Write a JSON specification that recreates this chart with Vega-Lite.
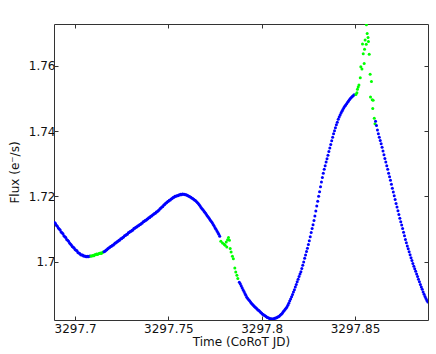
{
  "$schema": "https://vega.github.io/schema/vega-lite/v6.json",
  "width": 374,
  "height": 296,
  "autosize": {"type": "none"},
  "padding": {"left": 54, "top": 24, "right": 8, "bottom": 34},
  "background": "white",
  "config": {
    "view": {"stroke": null},
    "font": "DejaVu Sans",
    "axis": {"grid": false, "domainColor": "#333333", "tickColor": "#333333", "labelColor": "#111111", "titleColor": "#111111", "labelFont": "DejaVu Sans", "titleFont": "DejaVu Sans", "labelFontSize": 12, "titleFontSize": 12, "titleFontWeight": "normal", "tickSize": -4, "domainWidth": 1, "tickWidth": 1}
  },
  "layer": [
    {
      "data": {"values": [
        {"t":3297.6890,"f":1.7120,"c":"b"},{"t":3297.6895,"f":1.7117,"c":"b"},{"t":3297.6900,"f":1.7111,"c":"b"},{"t":3297.6905,"f":1.7108,"c":"b"},{"t":3297.6910,"f":1.7103,"c":"b"},{"t":3297.6915,"f":1.7100,"c":"b"},{"t":3297.6920,"f":1.7097,"c":"b"},{"t":3297.6925,"f":1.7091,"c":"b"},{"t":3297.6930,"f":1.7088,"c":"b"},{"t":3297.6935,"f":1.7085,"c":"b"},
        {"t":3297.6940,"f":1.7079,"c":"b"},{"t":3297.6945,"f":1.7076,"c":"b"},{"t":3297.6950,"f":1.7074,"c":"b"},{"t":3297.6955,"f":1.7068,"c":"b"},{"t":3297.6960,"f":1.7065,"c":"b"},{"t":3297.6965,"f":1.7062,"c":"b"},{"t":3297.6970,"f":1.7057,"c":"b"},{"t":3297.6975,"f":1.7054,"c":"b"},{"t":3297.6980,"f":1.7051,"c":"b"},{"t":3297.6985,"f":1.7046,"c":"b"},
        {"t":3297.6990,"f":1.7044,"c":"b"},{"t":3297.6995,"f":1.7042,"c":"b"},{"t":3297.7000,"f":1.7037,"c":"b"},{"t":3297.7005,"f":1.7035,"c":"b"},{"t":3297.7010,"f":1.7033,"c":"b"},{"t":3297.7015,"f":1.7028,"c":"b"},{"t":3297.7020,"f":1.7026,"c":"b"},{"t":3297.7025,"f":1.7025,"c":"b"},{"t":3297.7030,"f":1.7021,"c":"b"},{"t":3297.7035,"f":1.7020,"c":"b"},
        {"t":3297.7040,"f":1.7020,"c":"b"},{"t":3297.7045,"f":1.7017,"c":"b"},{"t":3297.7050,"f":1.7017,"c":"b"},{"t":3297.7055,"f":1.7016,"c":"b"},{"t":3297.7060,"f":1.7015,"c":"b"},{"t":3297.7065,"f":1.7016,"c":"b"},{"t":3297.7070,"f":1.7015,"c":"b"},{"t":3297.7075,"f":1.7016,"c":"b"},{"t":3297.7080,"f":1.7017,"c":"b"},
        {"t":3297.7085,"f":1.7017,"c":"g"},{"t":3297.7090,"f":1.7017,"c":"g"},{"t":3297.7095,"f":1.7019,"c":"g"},{"t":3297.7100,"f":1.7018,"c":"g"},{"t":3297.7105,"f":1.7021,"c":"g"},{"t":3297.7110,"f":1.7021,"c":"g"},{"t":3297.7115,"f":1.7023,"c":"g"},{"t":3297.7120,"f":1.7022,"c":"g"},{"t":3297.7125,"f":1.7024,"c":"g"},{"t":3297.7130,"f":1.7025,"c":"g"},{"t":3297.7135,"f":1.7026,"c":"g"},{"t":3297.7140,"f":1.7025,"c":"g"},{"t":3297.7145,"f":1.7027,"c":"g"},{"t":3297.7150,"f":1.7029,"c":"g"},
        {"t":3297.7155,"f":1.7030,"c":"b"},{"t":3297.7160,"f":1.7032,"c":"b"},{"t":3297.7165,"f":1.7035,"c":"b"},{"t":3297.7170,"f":1.7036,"c":"b"},{"t":3297.7175,"f":1.7039,"c":"b"},{"t":3297.7180,"f":1.7042,"c":"b"},{"t":3297.7185,"f":1.7043,"c":"b"},{"t":3297.7190,"f":1.7046,"c":"b"},{"t":3297.7195,"f":1.7047,"c":"b"},{"t":3297.7200,"f":1.7050,"c":"b"},
        {"t":3297.7205,"f":1.7051,"c":"b"},{"t":3297.7210,"f":1.7054,"c":"b"},{"t":3297.7215,"f":1.7057,"c":"b"},{"t":3297.7220,"f":1.7058,"c":"b"},{"t":3297.7225,"f":1.7061,"c":"b"},{"t":3297.7230,"f":1.7062,"c":"b"},{"t":3297.7235,"f":1.7065,"c":"b"},{"t":3297.7240,"f":1.7066,"c":"b"},{"t":3297.7245,"f":1.7070,"c":"b"},{"t":3297.7250,"f":1.7071,"c":"b"},
        {"t":3297.7255,"f":1.7074,"c":"b"},{"t":3297.7260,"f":1.7075,"c":"b"},{"t":3297.7265,"f":1.7079,"c":"b"},{"t":3297.7270,"f":1.7080,"c":"b"},{"t":3297.7275,"f":1.7083,"c":"b"},{"t":3297.7280,"f":1.7084,"c":"b"},{"t":3297.7285,"f":1.7088,"c":"b"},{"t":3297.7290,"f":1.7089,"c":"b"},{"t":3297.7295,"f":1.7092,"c":"b"},{"t":3297.7300,"f":1.7093,"c":"b"},
        {"t":3297.7305,"f":1.7096,"c":"b"},{"t":3297.7310,"f":1.7097,"c":"b"},{"t":3297.7315,"f":1.7101,"c":"b"},{"t":3297.7320,"f":1.7102,"c":"b"},{"t":3297.7325,"f":1.7105,"c":"b"},{"t":3297.7330,"f":1.7106,"c":"b"},{"t":3297.7335,"f":1.7109,"c":"b"},{"t":3297.7340,"f":1.7110,"c":"b"},{"t":3297.7345,"f":1.7113,"c":"b"},{"t":3297.7350,"f":1.7114,"c":"b"},
        {"t":3297.7355,"f":1.7117,"c":"b"},{"t":3297.7360,"f":1.7118,"c":"b"},{"t":3297.7365,"f":1.7122,"c":"b"},{"t":3297.7370,"f":1.7123,"c":"b"},{"t":3297.7375,"f":1.7126,"c":"b"},{"t":3297.7380,"f":1.7127,"c":"b"},{"t":3297.7385,"f":1.7130,"c":"b"},{"t":3297.7390,"f":1.7131,"c":"b"},{"t":3297.7395,"f":1.7134,"c":"b"},{"t":3297.7400,"f":1.7135,"c":"b"},
        {"t":3297.7405,"f":1.7139,"c":"b"},{"t":3297.7410,"f":1.7140,"c":"b"},{"t":3297.7415,"f":1.7143,"c":"b"},{"t":3297.7420,"f":1.7144,"c":"b"},{"t":3297.7425,"f":1.7147,"c":"b"},{"t":3297.7430,"f":1.7148,"c":"b"},{"t":3297.7435,"f":1.7152,"c":"b"},{"t":3297.7440,"f":1.7153,"c":"b"},{"t":3297.7445,"f":1.7156,"c":"b"},{"t":3297.7450,"f":1.7158,"c":"b"},
        {"t":3297.7455,"f":1.7162,"c":"b"},{"t":3297.7460,"f":1.7164,"c":"b"},{"t":3297.7465,"f":1.7167,"c":"b"},{"t":3297.7470,"f":1.7169,"c":"b"},{"t":3297.7475,"f":1.7173,"c":"b"},{"t":3297.7480,"f":1.7175,"c":"b"},{"t":3297.7485,"f":1.7179,"c":"b"},{"t":3297.7490,"f":1.7180,"c":"b"},{"t":3297.7495,"f":1.7183,"c":"b"},{"t":3297.7500,"f":1.7185,"c":"b"},
        {"t":3297.7505,"f":1.7188,"c":"b"},{"t":3297.7510,"f":1.7189,"c":"b"},{"t":3297.7515,"f":1.7192,"c":"b"},{"t":3297.7520,"f":1.7193,"c":"b"},{"t":3297.7525,"f":1.7196,"c":"b"},{"t":3297.7530,"f":1.7197,"c":"b"},{"t":3297.7535,"f":1.7200,"c":"b"},{"t":3297.7540,"f":1.7200,"c":"b"},{"t":3297.7545,"f":1.7202,"c":"b"},{"t":3297.7550,"f":1.7202,"c":"b"},
        {"t":3297.7555,"f":1.7204,"c":"b"},{"t":3297.7560,"f":1.7204,"c":"b"},{"t":3297.7565,"f":1.7206,"c":"b"},{"t":3297.7570,"f":1.7205,"c":"b"},{"t":3297.7575,"f":1.7207,"c":"b"},{"t":3297.7580,"f":1.7206,"c":"b"},{"t":3297.7585,"f":1.7206,"c":"b"},{"t":3297.7590,"f":1.7205,"c":"b"},{"t":3297.7595,"f":1.7205,"c":"b"},{"t":3297.7600,"f":1.7203,"c":"b"},
        {"t":3297.7605,"f":1.7202,"c":"b"},{"t":3297.7610,"f":1.7200,"c":"b"},{"t":3297.7615,"f":1.7199,"c":"b"},{"t":3297.7620,"f":1.7197,"c":"b"},{"t":3297.7625,"f":1.7195,"c":"b"},{"t":3297.7630,"f":1.7193,"c":"b"},{"t":3297.7635,"f":1.7191,"c":"b"},{"t":3297.7640,"f":1.7189,"c":"b"},{"t":3297.7645,"f":1.7187,"c":"b"},{"t":3297.7650,"f":1.7184,"c":"b"},
        {"t":3297.7655,"f":1.7181,"c":"b"},{"t":3297.7660,"f":1.7178,"c":"b"},{"t":3297.7665,"f":1.7174,"c":"b"},{"t":3297.7670,"f":1.7170,"c":"b"},{"t":3297.7675,"f":1.7166,"c":"b"},{"t":3297.7680,"f":1.7162,"c":"b"},{"t":3297.7685,"f":1.7159,"c":"b"},{"t":3297.7690,"f":1.7155,"c":"b"},{"t":3297.7695,"f":1.7151,"c":"b"},{"t":3297.7700,"f":1.7147,"c":"b"},
        {"t":3297.7705,"f":1.7143,"c":"b"},{"t":3297.7710,"f":1.7139,"c":"b"},{"t":3297.7715,"f":1.7135,"c":"b"},{"t":3297.7720,"f":1.7131,"c":"b"},{"t":3297.7725,"f":1.7127,"c":"b"},{"t":3297.7730,"f":1.7123,"c":"b"},{"t":3297.7735,"f":1.7119,"c":"b"},{"t":3297.7740,"f":1.7114,"c":"b"},{"t":3297.7745,"f":1.7109,"c":"b"},{"t":3297.7750,"f":1.7104,"c":"b"},
        {"t":3297.7755,"f":1.7099,"c":"b"},{"t":3297.7760,"f":1.7094,"c":"b"},{"t":3297.7765,"f":1.7089,"c":"b"},{"t":3297.7770,"f":1.7084,"c":"b"},{"t":3297.7775,"f":1.7078,"c":"b"},
        {"t":3297.7781,"f":1.7062,"c":"g"},{"t":3297.7790,"f":1.7057,"c":"g"},{"t":3297.7799,"f":1.7053,"c":"g"},{"t":3297.7804,"f":1.7050,"c":"g"},{"t":3297.7810,"f":1.7060,"c":"g"},{"t":3297.7817,"f":1.7067,"c":"g"},{"t":3297.7822,"f":1.7074,"c":"g"},{"t":3297.7827,"f":1.7065,"c":"g"},{"t":3297.7813,"f":1.7045,"c":"g"},{"t":3297.7831,"f":1.7040,"c":"g"},
        {"t":3297.7836,"f":1.7029,"c":"g"},{"t":3297.7843,"f":1.7016,"c":"g"},{"t":3297.7848,"f":1.7009,"c":"g"},{"t":3297.7856,"f":1.6980,"c":"g"},{"t":3297.7861,"f":1.6968,"c":"g"},{"t":3297.7867,"f":1.6958,"c":"g"},{"t":3297.7872,"f":1.6948,"c":"g"},
        {"t":3297.7880,"f":1.6937,"c":"b"},{"t":3297.7885,"f":1.6932,"c":"b"},{"t":3297.7890,"f":1.6926,"c":"b"},{"t":3297.7895,"f":1.6920,"c":"b"},{"t":3297.7900,"f":1.6914,"c":"b"},{"t":3297.7905,"f":1.6908,"c":"b"},{"t":3297.7910,"f":1.6902,"c":"b"},{"t":3297.7915,"f":1.6897,"c":"b"},{"t":3297.7920,"f":1.6891,"c":"b"},{"t":3297.7925,"f":1.6887,"c":"b"},
        {"t":3297.7930,"f":1.6883,"c":"b"},{"t":3297.7935,"f":1.6880,"c":"b"},{"t":3297.7940,"f":1.6876,"c":"b"},{"t":3297.7945,"f":1.6872,"c":"b"},{"t":3297.7950,"f":1.6869,"c":"b"},{"t":3297.7955,"f":1.6866,"c":"b"},{"t":3297.7960,"f":1.6863,"c":"b"},{"t":3297.7965,"f":1.6860,"c":"b"},{"t":3297.7970,"f":1.6858,"c":"b"},{"t":3297.7975,"f":1.6855,"c":"b"},
        {"t":3297.7980,"f":1.6852,"c":"b"},{"t":3297.7985,"f":1.6850,"c":"b"},{"t":3297.7990,"f":1.6847,"c":"b"},{"t":3297.7995,"f":1.6844,"c":"b"},{"t":3297.8000,"f":1.6842,"c":"b"},{"t":3297.8005,"f":1.6839,"c":"b"},{"t":3297.8010,"f":1.6837,"c":"b"},{"t":3297.8015,"f":1.6835,"c":"b"},{"t":3297.8020,"f":1.6833,"c":"b"},{"t":3297.8025,"f":1.6831,"c":"b"},
        {"t":3297.8030,"f":1.6829,"c":"b"},{"t":3297.8035,"f":1.6828,"c":"b"},{"t":3297.8040,"f":1.6826,"c":"b"},{"t":3297.8045,"f":1.6825,"c":"b"},{"t":3297.8050,"f":1.6825,"c":"b"},{"t":3297.8055,"f":1.6824,"c":"b"},{"t":3297.8060,"f":1.6824,"c":"b"},{"t":3297.8065,"f":1.6825,"c":"b"},{"t":3297.8070,"f":1.6826,"c":"b"},{"t":3297.8075,"f":1.6827,"c":"b"},
        {"t":3297.8080,"f":1.6828,"c":"b"},{"t":3297.8085,"f":1.6830,"c":"b"},{"t":3297.8090,"f":1.6831,"c":"b"},{"t":3297.8095,"f":1.6833,"c":"b"},{"t":3297.8100,"f":1.6836,"c":"b"},{"t":3297.8105,"f":1.6839,"c":"b"},{"t":3297.8110,"f":1.6842,"c":"b"},{"t":3297.8115,"f":1.6846,"c":"b"},{"t":3297.8120,"f":1.6849,"c":"b"},{"t":3297.8125,"f":1.6853,"c":"b"},
        {"t":3297.8130,"f":1.6857,"c":"b"},{"t":3297.8135,"f":1.6861,"c":"b"},{"t":3297.8140,"f":1.6866,"c":"b"},{"t":3297.8145,"f":1.6872,"c":"b"},{"t":3297.8150,"f":1.6879,"c":"b"},{"t":3297.8155,"f":1.6885,"c":"b"},{"t":3297.8160,"f":1.6892,"c":"b"},{"t":3297.8165,"f":1.6899,"c":"b"},{"t":3297.8170,"f":1.6907,"c":"b"},{"t":3297.8175,"f":1.6914,"c":"b"},
        {"t":3297.8180,"f":1.6922,"c":"b"},{"t":3297.8185,"f":1.6930,"c":"b"},{"t":3297.8190,"f":1.6938,"c":"b"},{"t":3297.8195,"f":1.6946,"c":"b"},{"t":3297.8200,"f":1.6954,"c":"b"},{"t":3297.8205,"f":1.6962,"c":"b"},{"t":3297.8210,"f":1.6969,"c":"b"},{"t":3297.8215,"f":1.6979,"c":"b"},{"t":3297.8220,"f":1.6989,"c":"b"},{"t":3297.8225,"f":1.6999,"c":"b"},
        {"t":3297.8230,"f":1.7010,"c":"b"},{"t":3297.8235,"f":1.7020,"c":"b"},{"t":3297.8240,"f":1.7031,"c":"b"},{"t":3297.8245,"f":1.7041,"c":"b"},{"t":3297.8250,"f":1.7052,"c":"b"},{"t":3297.8255,"f":1.7064,"c":"b"},{"t":3297.8260,"f":1.7076,"c":"b"},{"t":3297.8265,"f":1.7089,"c":"b"},{"t":3297.8270,"f":1.7101,"c":"b"},{"t":3297.8275,"f":1.7113,"c":"b"},
        {"t":3297.8280,"f":1.7126,"c":"b"},{"t":3297.8285,"f":1.7140,"c":"b"},{"t":3297.8290,"f":1.7155,"c":"b"},{"t":3297.8295,"f":1.7170,"c":"b"},{"t":3297.8300,"f":1.7185,"c":"b"},{"t":3297.8305,"f":1.7200,"c":"b"},{"t":3297.8310,"f":1.7214,"c":"b"},{"t":3297.8315,"f":1.7229,"c":"b"},{"t":3297.8320,"f":1.7244,"c":"b"},{"t":3297.8325,"f":1.7258,"c":"b"},
        {"t":3297.8330,"f":1.7271,"c":"b"},{"t":3297.8335,"f":1.7283,"c":"b"},{"t":3297.8340,"f":1.7294,"c":"b"},{"t":3297.8345,"f":1.7305,"c":"b"},{"t":3297.8350,"f":1.7315,"c":"b"},{"t":3297.8355,"f":1.7326,"c":"b"},{"t":3297.8360,"f":1.7337,"c":"b"},{"t":3297.8365,"f":1.7348,"c":"b"},{"t":3297.8370,"f":1.7359,"c":"b"},{"t":3297.8375,"f":1.7370,"c":"b"},
        {"t":3297.8380,"f":1.7381,"c":"b"},{"t":3297.8385,"f":1.7392,"c":"b"},{"t":3297.8390,"f":1.7401,"c":"b"},{"t":3297.8395,"f":1.7410,"c":"b"},{"t":3297.8400,"f":1.7419,"c":"b"},{"t":3297.8405,"f":1.7427,"c":"b"},{"t":3297.8410,"f":1.7436,"c":"b"},{"t":3297.8415,"f":1.7443,"c":"b"},{"t":3297.8420,"f":1.7449,"c":"b"},{"t":3297.8425,"f":1.7455,"c":"b"},
        {"t":3297.8430,"f":1.7461,"c":"b"},{"t":3297.8435,"f":1.7466,"c":"b"},{"t":3297.8440,"f":1.7471,"c":"b"},{"t":3297.8445,"f":1.7476,"c":"b"},{"t":3297.8450,"f":1.7480,"c":"b"},{"t":3297.8455,"f":1.7484,"c":"b"},{"t":3297.8460,"f":1.7488,"c":"b"},{"t":3297.8465,"f":1.7492,"c":"b"},{"t":3297.8470,"f":1.7496,"c":"b"},{"t":3297.8475,"f":1.7500,"c":"b"},
        {"t":3297.8480,"f":1.7503,"c":"b"},{"t":3297.8485,"f":1.7506,"c":"b"},{"t":3297.8490,"f":1.7508,"c":"b"},{"t":3297.8495,"f":1.7511,"c":"b"},
        {"t":3297.8561,"f":1.7726,"c":"g"},{"t":3297.8565,"f":1.7699,"c":"g"},{"t":3297.8570,"f":1.7687,"c":"g"},{"t":3297.8554,"f":1.7679,"c":"g"},{"t":3297.8572,"f":1.7674,"c":"g"},{"t":3297.8540,"f":1.7667,"c":"g"},{"t":3297.8560,"f":1.7666,"c":"g"},{"t":3297.8551,"f":1.7651,"c":"g"},{"t":3297.8544,"f":1.7637,"c":"g"},{"t":3297.8576,"f":1.7635,"c":"g"},
        {"t":3297.8549,"f":1.7607,"c":"g"},{"t":3297.8531,"f":1.7597,"c":"g"},{"t":3297.8537,"f":1.7590,"c":"g"},{"t":3297.8581,"f":1.7574,"c":"g"},{"t":3297.8528,"f":1.7563,"c":"g"},{"t":3297.8588,"f":1.7552,"c":"g"},{"t":3297.8521,"f":1.7541,"c":"g"},{"t":3297.8517,"f":1.7535,"c":"g"},{"t":3297.8513,"f":1.7528,"c":"g"},{"t":3297.8510,"f":1.7517,"c":"g"},
        {"t":3297.8505,"f":1.7512,"c":"g"},{"t":3297.8583,"f":1.7504,"c":"g"},{"t":3297.8592,"f":1.7496,"c":"g"},{"t":3297.8597,"f":1.7494,"c":"g"},{"t":3297.8595,"f":1.7469,"c":"g"},{"t":3297.8603,"f":1.7439,"c":"g"},{"t":3297.8607,"f":1.7422,"c":"g"},
        {"t":3297.8610,"f":1.7430,"c":"b"},{"t":3297.8615,"f":1.7417,"c":"b"},{"t":3297.8620,"f":1.7403,"c":"b"},{"t":3297.8625,"f":1.7392,"c":"b"},{"t":3297.8630,"f":1.7381,"c":"b"},{"t":3297.8635,"f":1.7371,"c":"b"},{"t":3297.8640,"f":1.7361,"c":"b"},{"t":3297.8645,"f":1.7350,"c":"b"},{"t":3297.8650,"f":1.7339,"c":"b"},{"t":3297.8655,"f":1.7327,"c":"b"},
        {"t":3297.8660,"f":1.7316,"c":"b"},{"t":3297.8665,"f":1.7305,"c":"b"},{"t":3297.8670,"f":1.7294,"c":"b"},{"t":3297.8675,"f":1.7283,"c":"b"},{"t":3297.8680,"f":1.7271,"c":"b"},{"t":3297.8685,"f":1.7260,"c":"b"},{"t":3297.8690,"f":1.7249,"c":"b"},{"t":3297.8695,"f":1.7237,"c":"b"},{"t":3297.8700,"f":1.7225,"c":"b"},{"t":3297.8705,"f":1.7213,"c":"b"},
        {"t":3297.8710,"f":1.7202,"c":"b"},{"t":3297.8715,"f":1.7190,"c":"b"},{"t":3297.8720,"f":1.7178,"c":"b"},{"t":3297.8725,"f":1.7167,"c":"b"},{"t":3297.8730,"f":1.7156,"c":"b"},{"t":3297.8735,"f":1.7144,"c":"b"},{"t":3297.8740,"f":1.7133,"c":"b"},{"t":3297.8745,"f":1.7122,"c":"b"},{"t":3297.8750,"f":1.7112,"c":"b"},{"t":3297.8755,"f":1.7101,"c":"b"},
        {"t":3297.8760,"f":1.7090,"c":"b"},{"t":3297.8765,"f":1.7079,"c":"b"},{"t":3297.8770,"f":1.7068,"c":"b"},{"t":3297.8775,"f":1.7058,"c":"b"},{"t":3297.8780,"f":1.7048,"c":"b"},{"t":3297.8785,"f":1.7039,"c":"b"},{"t":3297.8790,"f":1.7030,"c":"b"},{"t":3297.8795,"f":1.7021,"c":"b"},{"t":3297.8800,"f":1.7012,"c":"b"},{"t":3297.8805,"f":1.7003,"c":"b"},
        {"t":3297.8810,"f":1.6994,"c":"b"},{"t":3297.8815,"f":1.6986,"c":"b"},{"t":3297.8820,"f":1.6978,"c":"b"},{"t":3297.8825,"f":1.6970,"c":"b"},{"t":3297.8830,"f":1.6962,"c":"b"},{"t":3297.8835,"f":1.6954,"c":"b"},{"t":3297.8840,"f":1.6946,"c":"b"},{"t":3297.8845,"f":1.6938,"c":"b"},{"t":3297.8850,"f":1.6930,"c":"b"},{"t":3297.8855,"f":1.6922,"c":"b"},
        {"t":3297.8860,"f":1.6915,"c":"b"},{"t":3297.8865,"f":1.6907,"c":"b"},{"t":3297.8870,"f":1.6900,"c":"b"},{"t":3297.8875,"f":1.6893,"c":"b"},{"t":3297.8880,"f":1.6887,"c":"b"},{"t":3297.8885,"f":1.6881,"c":"b"},{"t":3297.8890,"f":1.6876,"c":"b"}
      ]},
      "mark": {"type": "point", "shape": "circle", "filled": true, "size": 9, "opacity": 1, "clip": true},
      "encoding": {
        "x": {"field": "t", "type": "quantitative", "scale": {"domain": [3297.6887, 3297.8891], "nice": false, "zero": false},
              "axis": {"orient": "bottom", "title": "Time (CoRoT JD)", "values": [3297.7, 3297.75, 3297.8, 3297.85], "format": "~g", "labelPadding": 7, "titlePadding": 2, "labelFlush": false}},
        "y": {"field": "f", "type": "quantitative", "scale": {"domain": [1.6821, 1.7728], "nice": false, "zero": false},
              "axis": {"orient": "left", "title": "Flux (e⁻/s)", "values": [1.7, 1.72, 1.74, 1.76], "format": "~g", "labelPadding": 3, "titlePadding": 7}},
        "color": {"field": "c", "type": "nominal", "scale": {"domain": ["b", "g"], "range": ["#0000ff", "#00ff00"]}, "legend": null}
      }
    },
    {
      "data": {"values": [{"t": 3297.75, "f": 1.72}]},
      "mark": {"type": "point", "opacity": 0},
      "encoding": {
        "x": {"field": "t", "type": "quantitative", "axis": {"orient": "top", "title": null, "labels": false, "values": [3297.7, 3297.75, 3297.8, 3297.85]}},
        "y": {"field": "f", "type": "quantitative", "axis": {"orient": "right", "title": null, "labels": false, "values": [1.7, 1.72, 1.74, 1.76]}}
      }
    }
  ],
  "resolve": {"axis": {"x": "independent", "y": "independent"}}
}
